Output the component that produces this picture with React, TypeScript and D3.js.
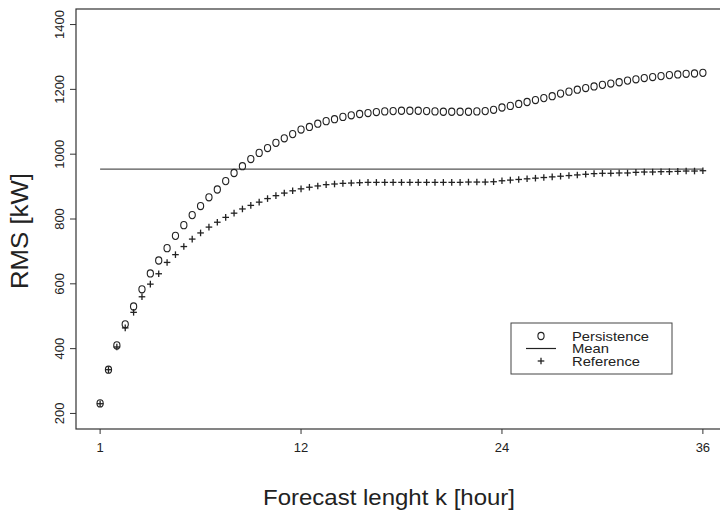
import React from 'react';
import * as d3 from 'd3';

const stepIndex = d3.range(1, 74);
const hourTickIndex = [1, 25, 49, 73];
const hourTickLabels = ['1', '12', '24', '36'];
const rmsTicks = [200, 400, 600, 800, 1000, 1200, 1400];
const persistence = [
  231, 335, 410, 475, 530, 583, 632, 672, 710, 748,
  781, 812, 840, 867, 891, 917, 942, 963, 985, 1004,
  1019, 1035, 1049, 1062, 1076, 1084, 1094, 1102, 1108, 1115,
  1120, 1124, 1127, 1130, 1132, 1133, 1134, 1134, 1134, 1133,
  1132, 1131, 1131, 1131, 1131, 1132, 1133, 1137, 1144, 1149,
  1155, 1161, 1167, 1173, 1179, 1187, 1193, 1199, 1204, 1209,
  1214, 1218, 1222, 1227, 1231, 1235, 1238, 1241, 1244, 1246,
  1248, 1249, 1251,
];
const reference = [
  230, 335, 405, 464, 512, 560, 599, 631, 666, 690,
  715, 738, 757, 775, 790, 805, 818, 831, 842, 852,
  863, 872, 880, 887, 893, 898, 902, 906, 908, 910,
  911, 912, 913, 913, 913, 913, 913, 913, 913, 913,
  913, 913, 913, 913, 914, 914, 914, 915, 918, 920,
  922, 924, 926, 928, 930, 932, 934, 936, 938, 940,
  941, 941, 942, 942, 944, 945, 945, 946, 946, 947,
  948, 948, 949,
];
const meanRMS = 954;
const legendLabels = ['Persistence', 'Mean', 'Reference'];
const xTitle = 'Forecast lenght k [hour]';
const yTitle = 'RMS [kW]';

const FONT = "'Liberation Sans', Arial, Helvetica, sans-serif";
const INK = '#222';

export default function App() {
  const W = 720, H = 513;
  const x = d3.scaleLinear().domain([-1.88, 75.88]).range([76, 727]);
  const y = d3.scaleLinear().domain([152, 1448]).range([429, 9]);
  const [x0, x1] = x.range();
  const [yb, yt] = y.range();

  const lx = 511, ly = 323, lw = 161, lh = 51;
  const rowY = [336, 348.5, 361];
  const legendWidths = [77, 37, 68];
  const symX = 541;
  const textX = 572;

  return (
    <svg width={W} height={H} style={{ position: 'absolute', left: 0, top: 0, background: '#fff' }} fontFamily={FONT}>
      {/* frame */}
      <g stroke="#333" strokeWidth={1.2} fill="none">
        <rect x={x0} y={yt} width={x1 - x0} height={yb - yt} />
      </g>
      {/* y axis ticks */}
      {rmsTicks.map((t) => (
        <g key={t}>
          <line x1={x0 - 6} x2={x0} y1={y(t)} y2={y(t)} stroke="#333" strokeWidth={1} />
          <text
            transform={`translate(${x0 - 12},${y(t)}) rotate(-90)`}
            textAnchor="middle"
            fontSize={13}
            fill={INK}
          >
            {t}
          </text>
        </g>
      ))}
      {/* x axis ticks */}
      {hourTickIndex.map((t, i) => (
        <g key={t}>
          <line x1={x(t)} x2={x(t)} y1={yb} y2={yb + 5} stroke="#333" strokeWidth={1} />
          <text x={x(t)} y={yb + 23} textAnchor="middle" fontSize={13} fill={INK}>
            {hourTickLabels[i]}
          </text>
        </g>
      ))}
      {/* titles */}
      <text x={389} y={505} textAnchor="middle" fontSize={22} textLength={252} lengthAdjust="spacingAndGlyphs" fill={INK}>
        {xTitle}
      </text>
      <text transform={`translate(28,231) rotate(-90)`} textAnchor="middle" fontSize={23} textLength={116} lengthAdjust="spacingAndGlyphs" fill={INK}>
        {yTitle}
      </text>
      {/* mean line */}
      <line x1={x(1)} x2={x(73)} y1={y(meanRMS)} y2={y(meanRMS)} stroke="#555" strokeWidth={1.3} />
      {/* persistence */}
      <g fill="none" stroke={INK} strokeWidth={1.1}>
        {stepIndex.map((k, i) => (
          <ellipse key={k} cx={x(k)} cy={y(persistence[i])} rx={3.1} ry={3.6} />
        ))}
      </g>
      {/* reference */}
      <g stroke={INK} strokeWidth={1.3}>
        {stepIndex.map((k, i) => {
          const cx = x(k), cy = y(reference[i]);
          return (
            <g key={k}>
              <line x1={cx - 3.3} x2={cx + 3.3} y1={cy} y2={cy} />
              <line x1={cx} x2={cx} y1={cy - 3.3} y2={cy + 3.3} />
            </g>
          );
        })}
      </g>
      {/* legend */}
      <rect x={lx} y={ly} width={lw} height={lh} fill="#fff" stroke="#444" strokeWidth={1} />
      <ellipse cx={symX} cy={rowY[0]} rx={3.1} ry={3.6} fill="none" stroke={INK} strokeWidth={1.1} />
      <line x1={symX - 15} x2={symX + 15} y1={rowY[1]} y2={rowY[1]} stroke={INK} strokeWidth={1.2} />
      <g stroke={INK} strokeWidth={1.3}>
        <line x1={symX - 3.3} x2={symX + 3.3} y1={rowY[2]} y2={rowY[2]} />
        <line x1={symX} x2={symX} y1={rowY[2] - 3.3} y2={rowY[2] + 3.3} />
      </g>
      {legendLabels.map((l, i) => (
        <text key={l} x={textX} y={rowY[i] + 4.5} fontSize={13} textLength={legendWidths[i]} lengthAdjust="spacingAndGlyphs" fill={INK}>
          {l}
        </text>
      ))}
    </svg>
  );
}
